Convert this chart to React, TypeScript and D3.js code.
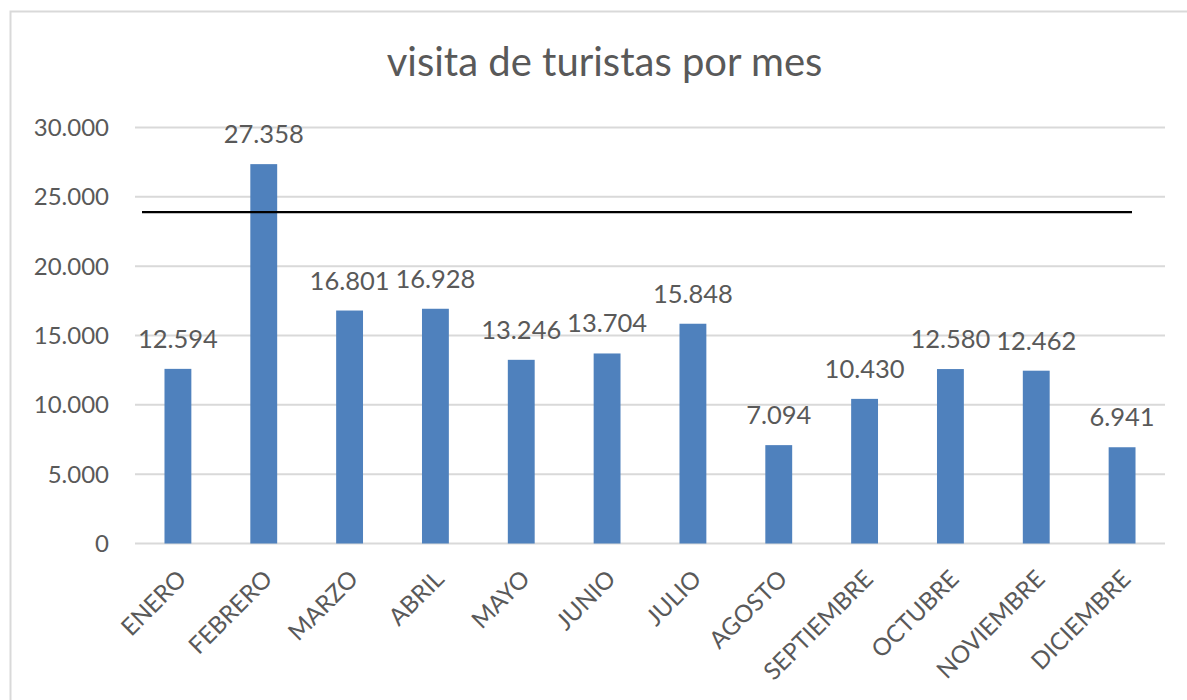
import React from "react";
import * as d3 from "d3";

const months = ["ENERO", "FEBRERO", "MARZO", "ABRIL", "MAYO", "JUNIO", "JULIO", "AGOSTO", "SEPTIEMBRE", "OCTUBRE", "NOVIEMBRE", "DICIEMBRE"];
const visits = [12594, 27358, 16801, 16928, 13246, 13704, 15848, 7094, 10430, 12580, 12462, 6941];
const yTicks = [0, 5000, 10000, 15000, 20000, 25000, 30000];
const refLineValue = 23900;
const title = "visita de turistas por mes";

const W = 1187;
const H = 700;
const plot = { left: 135, right: 1165, top: 127.5, bottom: 543.5 };
const FONT = "Lato, 'Open Sans', sans-serif";
const TEXT = "#595959";

const locale = d3.formatLocale({ decimal: ",", thousands: ".", grouping: [3], currency: ["", ""] });
const fmt = locale.format(",d");

export default function App() {
  const x = d3.scaleBand<string>().domain(months).range([plot.left, plot.right]).paddingInner(0.687).paddingOuter(0.3435);
  const y = d3.scaleLinear().domain([0, 30000]).range([plot.bottom, plot.top]);
  const bw = x.bandwidth();
  return (
    <svg width={W} height={H} style={{ position: "absolute", left: 0, top: 0, background: "#fff" }}>
      <rect x={10.5} y={11.5} width={1200} height={720} fill="#fff" stroke="#d9d9d9" strokeWidth={2} />
      <text x={604.5} y={76} textAnchor="middle" fontFamily={FONT} fontSize={40} fill={TEXT}>{title}</text>
      {yTicks.map((t) => (
        <g key={t}>
          <line x1={plot.left} x2={plot.right} y1={y(t)} y2={y(t)} stroke="#d9d9d9" strokeWidth={2} />
          <text x={109} y={y(t)} dy="0.35em" textAnchor="end" fontFamily={FONT} fontSize={24} fill={TEXT}>{fmt(t)}</text>
        </g>
      ))}
      {months.map((m, i) => {
        const cx = (x(m) as number) + bw / 2;
        return (
          <g key={m}>
            <rect x={x(m)} y={y(visits[i])} width={bw} height={y(0) - y(visits[i])} fill="#4F81BD" />
            <text x={cx} y={y(visits[i]) - 21} textAnchor="middle" fontFamily={FONT} fontSize={25.5} fill={TEXT}>{fmt(visits[i])}</text>
            <text transform={`translate(${cx + 10},${plot.bottom + 37}) rotate(-45)`} textAnchor="end" fontFamily={FONT} fontSize={24} fill={TEXT}>{m}</text>
          </g>
        );
      })}
      <line x1={142} x2={1132} y1={y(refLineValue)} y2={y(refLineValue)} stroke="#000" strokeWidth={2.2} />
    </svg>
  );
}
